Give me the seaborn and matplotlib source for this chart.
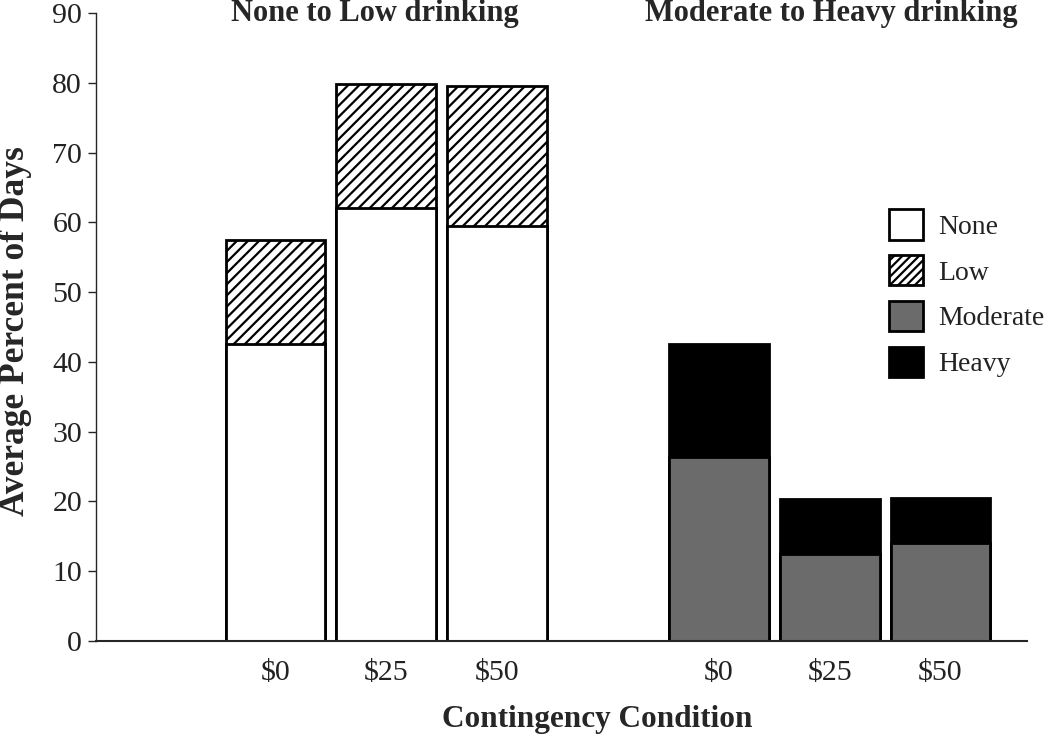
import numpy as np
import pandas as pd
import matplotlib
matplotlib.use('Agg')
import matplotlib.pyplot as plt
import seaborn as sns
from matplotlib.patches import Patch

# data
conditions = [r'\$0', r'\$25', r'\$50']
none_vals = [42.6, 62.1, 59.5]
low_vals = [14.9, 17.7, 20.1]
moderate_vals = [26.3, 12.5, 14.1]
heavy_vals = [16.3, 7.8, 6.4]
group_titles = ['None to Low drinking', 'Moderate to Heavy drinking']

sns.set_style('white')
plt.rcParams['font.family'] = ['Liberation Serif', 'DejaVu Serif']
plt.rcParams['hatch.linewidth'] = 1.6

pos_low = [0, 1, 2]
pos_high = [4, 5, 6]

low_df = pd.DataFrame({'pos': pos_low, 'none': none_vals,
                       'total': np.add(none_vals, low_vals)})
high_df = pd.DataFrame({'pos': pos_high, 'moderate': moderate_vals,
                        'total': np.add(moderate_vals, heavy_vals)})

fig = plt.figure(figsize=(10.5, 7.39), dpi=100)
ax = fig.add_axes([0.0914, 0.1326, 0.8866, 0.8498])

edge = dict(edgecolor='black', linewidth=2.0)
# stacked bars: totals first, then the lower part drawn over them
sns.barplot(data=low_df, x='pos', y='total', native_scale=True, color='white',
            hatch='///', width=0.9, ax=ax, **edge)
sns.barplot(data=low_df, x='pos', y='none', native_scale=True, color='white',
            width=0.9, ax=ax, **edge)
sns.barplot(data=high_df, x='pos', y='total', native_scale=True, color='black',
            width=0.9, ax=ax, **edge)
sns.barplot(data=high_df, x='pos', y='moderate', native_scale=True, color='#6b6b6b',
            width=0.9, ax=ax, **edge)

ax.set_xlim(-1.62, 6.78)
ax.set_ylim(0, 90)
ax.set_yticks(range(0, 91, 10))
ax.set_xticks(pos_low + pos_high, conditions + conditions)
ax.tick_params(axis='y', length=6, width=1, direction='out', labelsize=21.5, pad=4,
               left=True, labelcolor='#222222')
ax.tick_params(axis='x', length=0, labelsize=21.5, pad=14, labelcolor='#222222')
ax.set_xlabel('')
ax.set_ylabel('')
for s in ['top', 'right']:
    ax.spines[s].set_visible(False)
ax.spines['left'].set_linewidth(1.0)
ax.spines['bottom'].set_linewidth(1.5)

fig.text(375 / 1050, 1 - 13 / 739, group_titles[0], ha='center', va='center',
         fontsize=22, fontweight='bold')
fig.text(831 / 1050, 1 - 13 / 739, group_titles[1], ha='center', va='center',
         fontsize=22, fontweight='bold')
fig.text(597 / 1050, 1 - 720 / 739, 'Contingency Condition', ha='center', va='center',
         fontsize=22.5, fontweight='bold')
fig.text(16 / 1050, 1 - 331 / 739, 'Average Percent of Days', ha='center', va='center',
         rotation=90, fontsize=25.5, fontweight='bold')

handles = [Patch(facecolor='white', edgecolor='black', linewidth=2, label='None'),
           Patch(facecolor='white', edgecolor='black', linewidth=2, hatch='////', label='Low'),
           Patch(facecolor='#6b6b6b', edgecolor='black', linewidth=2, label='Moderate'),
           Patch(facecolor='black', edgecolor='black', linewidth=2, label='Heavy')]
fig.legend(handles=handles, loc='upper left', bbox_to_anchor=(870 / 1050, 1 - 190 / 739),
           frameon=False, fontsize=20, handlelength=1.2, handleheight=1.3,
           labelspacing=0.55, handletextpad=0.55, borderpad=0.2, labelcolor='#222222')

fig.savefig('out.png', dpi=100)
